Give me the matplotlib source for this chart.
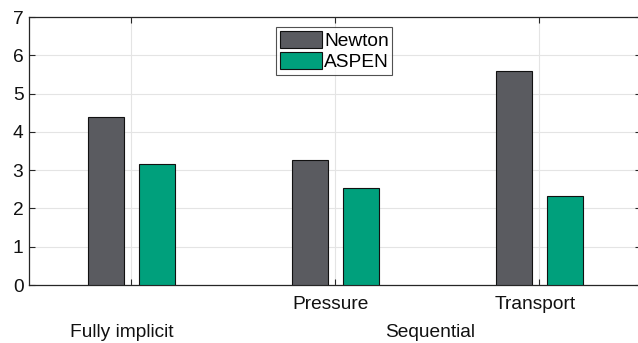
import matplotlib
matplotlib.use("Agg")
import matplotlib.pyplot as plt
from matplotlib.transforms import ScaledTranslation
import numpy as np

groups = ["Fully implicit", "Pressure", "Transport"]
tick_labels = ["", "Pressure", "Transport"]
newton = [4.4, 3.26, 5.6]
aspen = [3.15, 2.54, 2.33]
series_names = ["Newton", "ASPEN"]

plt.rcParams['font.family'] = ['Liberation Sans', 'DejaVu Sans']
fs = 13.8
fig = plt.figure(figsize=(6.38, 3.43), dpi=100)
ax = fig.add_axes([29/638, 1 - 285/343, (641-29)/638, (285-17)/343])

x = np.arange(1, len(groups) + 1)
w = 0.176
ax.bar(x - 0.123, newton, w, color="#5a5b60", edgecolor="#111111", linewidth=0.8, label=series_names[0], zorder=3)
ax.bar(x + 0.128, aspen, w, color="#00a07c", edgecolor="#111111", linewidth=0.8, label=series_names[1], zorder=3)

ax.set_xlim(0.5, 3.5)
ax.set_ylim(0, 7)
ax.set_yticks(range(0, 8))
ax.set_xticks(x)
ax.set_xticklabels(tick_labels)
ax.tick_params(direction="in", length=4, width=0.8, colors="#262626", labelsize=fs,
               top=True, right=True, labelcolor="#111111")
ax.tick_params(axis="x", pad=8)
ax.tick_params(axis="y", pad=4)
for lab in ax.get_xticklabels():
    lab.set_transform(lab.get_transform() + ScaledTranslation(-4/100, 0, fig.dpi_scale_trans))
ax.grid(True, color="#e4e4e4", linewidth=0.8, zorder=0)
for s in ax.spines.values():
    s.set_color("#262626")
    s.set_linewidth(0.9)

ax.text(0.953, -0.145, groups[0], transform=ax.get_xaxis_transform(), ha="center", va="top", fontsize=fs, color="#111111")
ax.text(2.465, -0.145, "Sequential", transform=ax.get_xaxis_transform(), ha="center", va="top", fontsize=fs, color="#111111")

leg = ax.legend(loc="upper left", bbox_to_anchor=((276-29)/612, (285-27)/268), frameon=True, fancybox=False,
                fontsize=fs, handlelength=2.2, handleheight=1.0, handletextpad=0.1, borderpad=0.2,
                labelspacing=0.1, borderaxespad=0)
leg.get_frame().set_edgecolor("#262626")
leg.get_frame().set_linewidth(0.8)

fig.savefig("out.png", dpi=100)
